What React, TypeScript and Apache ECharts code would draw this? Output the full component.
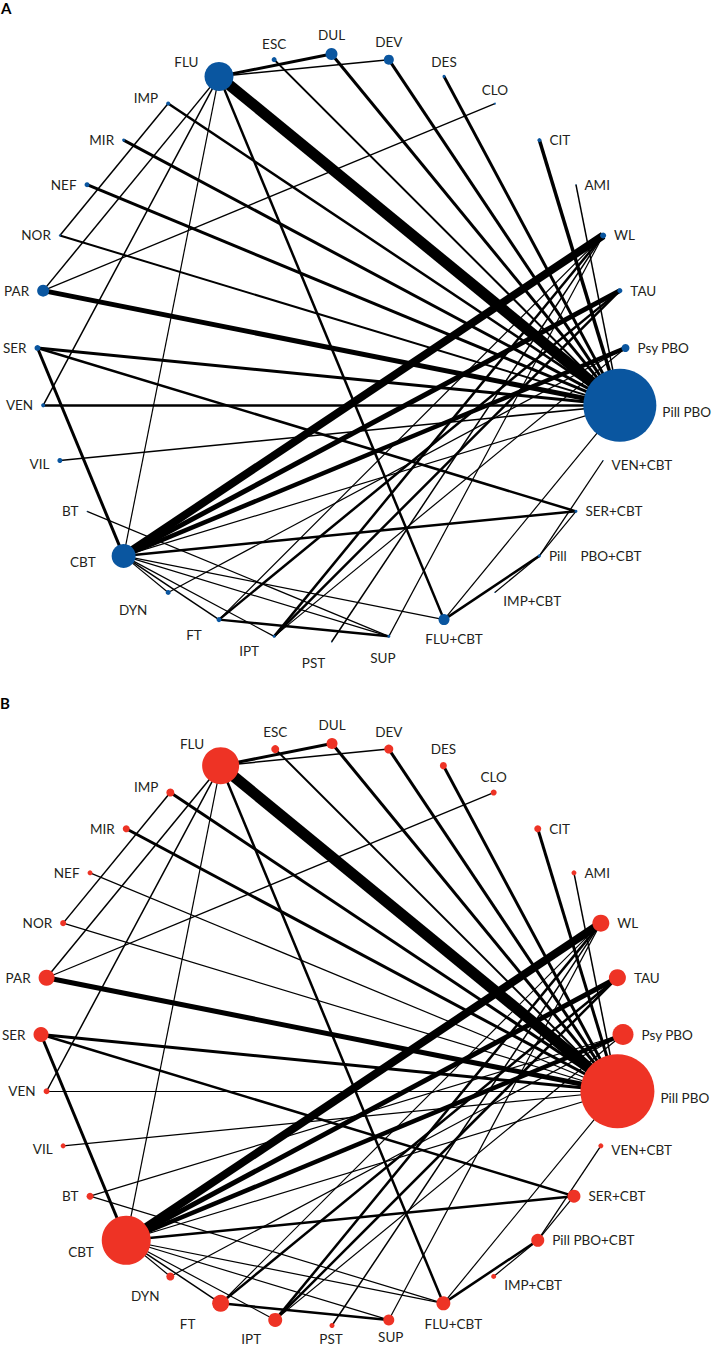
import React, { useEffect, useRef } from 'react';
import * as echarts from 'echarts';

// nodes in clockwise order starting at the top of the circle
const nodeNames = ['DUL', 'DEV', 'DES', 'CLO', 'CIT', 'AMI', 'WL', 'TAU', 'Psy PBO', 'Pill PBO', 'VEN+CBT', 'SER+CBT', 'Pill PBO+CBT', 'IMP+CBT', 'FLU+CBT', 'SUP', 'PST', 'IPT', 'FT', 'DYN', 'CBT', 'BT', 'VIL', 'VEN', 'SER', 'PAR', 'NOR', 'NEF', 'MIR', 'IMP', 'FLU', 'ESC'];
const nodeLabelsA = ['DUL', 'DEV', 'DES', 'CLO', 'CIT', 'AMI', 'WL', 'TAU', 'Psy PBO', 'Pill PBO', 'VEN+CBT', 'SER+CBT', 'Pill    PBO+CBT', 'IMP+CBT', 'FLU+CBT', 'SUP', 'PST', 'IPT', 'FT', 'DYN', 'CBT', 'BT', 'VIL', 'VEN', 'SER', 'PAR', 'NOR', 'NEF', 'MIR', 'IMP', 'FLU', 'ESC'];
const nodeLabelsB = nodeNames;

const nodeSizesA = [12, 10, 3, 2, 4, 1, 6, 5, 8, 73, 1, 3, 3, 1, 11, 3, 1, 3, 5, 5, 24, 1, 5, 4, 6, 12, 2, 5, 3, 4, 29, 5];
const nodeSizesB = [11, 9, 7, 6, 7, 5, 17, 17, 21, 74, 5, 13, 13, 5, 14, 11, 5, 14, 17, 8, 49, 7, 5, 6, 15, 16, 6, 5, 7, 8, 37, 8];

const edgesA: [string, string, number][] = [
  ['FLU', 'Pill PBO', 11],
  ['FLU', 'DUL', 3],
  ['FLU', 'DEV', 1.5],
  ['FLU', 'PAR', 1.5],
  ['FLU', 'VEN', 1.5],
  ['FLU', 'CBT', 1.2],
  ['FLU', 'FLU+CBT', 2.5],
  ['ESC', 'Pill PBO', 2],
  ['DUL', 'Pill PBO', 3],
  ['DEV', 'Pill PBO', 3],
  ['DES', 'Pill PBO', 3],
  ['CLO', 'PAR', 1.3],
  ['CIT', 'Pill PBO', 3.5],
  ['AMI', 'Pill PBO', 1.5],
  ['IMP', 'Pill PBO', 2.5],
  ['IMP', 'NOR', 1.5],
  ['MIR', 'Pill PBO', 3],
  ['NEF', 'Pill PBO', 3],
  ['NOR', 'Pill PBO', 2],
  ['PAR', 'Pill PBO', 5],
  ['SER', 'Pill PBO', 3],
  ['SER', 'SER+CBT', 2.5],
  ['SER', 'CBT', 3],
  ['VEN', 'Pill PBO', 2.5],
  ['VIL', 'Pill PBO', 1.5],
  ['CBT', 'WL', 8],
  ['CBT', 'TAU', 5],
  ['CBT', 'Psy PBO', 4.5],
  ['CBT', 'Pill PBO', 1.2],
  ['CBT', 'SER+CBT', 2.5],
  ['CBT', 'FLU+CBT', 1.2],
  ['CBT', 'DYN', 1.2],
  ['CBT', 'FT', 1.5],
  ['CBT', 'IPT', 1.2],
  ['CBT', 'SUP', 1.2],
  ['BT', 'SUP', 1.2],
  ['FT', 'SUP', 2.5],
  ['FT', 'TAU', 2.5],
  ['FT', 'WL', 1.2],
  ['IPT', 'TAU', 2.5],
  ['IPT', 'WL', 2.5],
  ['IPT', 'Psy PBO', 1.2],
  ['PST', 'WL', 1.5],
  ['DYN', 'Psy PBO', 1.2],
  ['SUP', 'WL', 1.2],
  ['FLU+CBT', 'Pill PBO', 1.2],
  ['FLU+CBT', 'Pill PBO+CBT', 2.5],
  ['IMP+CBT', 'Pill PBO+CBT', 1.2],
  ['SER+CBT', 'Pill PBO+CBT', 1.2],
  ['VEN+CBT', 'Pill PBO+CBT', 1.3],
];

const edgesB: [string, string, number][] = [
  ['FLU', 'Pill PBO', 11],
  ['FLU', 'DUL', 3],
  ['FLU', 'DEV', 1.5],
  ['FLU', 'PAR', 1.5],
  ['FLU', 'VEN', 1.5],
  ['FLU', 'CBT', 1.2],
  ['FLU', 'FLU+CBT', 2.5],
  ['ESC', 'Pill PBO', 2],
  ['DUL', 'Pill PBO', 3],
  ['DEV', 'Pill PBO', 3],
  ['DES', 'Pill PBO', 3],
  ['CLO', 'PAR', 1.3],
  ['CIT', 'Pill PBO', 3],
  ['AMI', 'Pill PBO', 1.5],
  ['IMP', 'Pill PBO', 3],
  ['IMP', 'NOR', 1.5],
  ['MIR', 'Pill PBO', 3],
  ['NEF', 'Pill PBO', 1.2],
  ['NOR', 'Pill PBO', 1.2],
  ['PAR', 'Pill PBO', 5],
  ['SER', 'Pill PBO', 3],
  ['SER', 'SER+CBT', 2.5],
  ['SER', 'CBT', 3],
  ['VEN', 'Pill PBO', 1.2],
  ['VIL', 'Pill PBO', 1.2],
  ['BT', 'Psy PBO', 1.2],
  ['BT', 'FLU+CBT', 1.2],
  ['CBT', 'WL', 8],
  ['CBT', 'TAU', 5],
  ['CBT', 'Psy PBO', 4.5],
  ['CBT', 'Pill PBO', 1.2],
  ['CBT', 'SER+CBT', 2.5],
  ['CBT', 'FLU+CBT', 1.2],
  ['CBT', 'DYN', 1.2],
  ['CBT', 'FT', 1.5],
  ['CBT', 'IPT', 1.2],
  ['CBT', 'SUP', 1.2],
  ['FT', 'SUP', 2.5],
  ['FT', 'TAU', 2.5],
  ['FT', 'WL', 1.2],
  ['IPT', 'TAU', 2.5],
  ['IPT', 'WL', 2.5],
  ['IPT', 'Psy PBO', 1.2],
  ['PST', 'WL', 1.5],
  ['DYN', 'Psy PBO', 1.2],
  ['SUP', 'WL', 1.2],
  ['FLU+CBT', 'Pill PBO', 1.2],
  ['FLU+CBT', 'Pill PBO+CBT', 2.5],
  ['IMP+CBT', 'Pill PBO+CBT', 1.2],
  ['SER+CBT', 'Pill PBO+CBT', 1.2],
  ['VEN+CBT', 'Pill PBO+CBT', 1.3],
];

const FONT = 'Lato';
const TEXT_COLOR = '#231f20';

// label placement around the circle (style only)
function labelPlacement(i: number, panel: number): any {
  if (i === 30) return { position: 'left', distance: 4, offset: panel === 0 ? [-2, -14] : [6, -22] };
  if (i === 31 || i <= 3) return { position: 'top', distance: 6 };
  if (i <= 13) {
    const dy = i === 9 ? 7 : i === 13 ? 9 : i === 10 ? 4 : 0;
    return { position: 'right', distance: i === 9 ? 6 : 8, offset: [0, dy] };
  }
  if (i === 14) return { position: 'bottom', distance: 5, offset: [10, 2] };
  const bottomOffsets: Record<number, number[][]> = {
    15: [[-6, 8], [2, 0]],
    16: [[-18, 10], [-1, 1]],
    17: [[-25, 3], [-24, 2]],
    18: [[-25, 3], [-33, 2]],
    19: [[-35, 5], [-25, 6]],
  };
  if (i <= 19) return { position: 'bottom', distance: i === 15 ? 5 : 3, offset: bottomOffsets[i][panel] };
  let dy = 0;
  let dx = 0;
  if (i === 20) { dy = panel === 0 ? 6 : 12; dx = panel === 0 ? -8 : 0; }
  if (i === 29) dy = -6;
  if (i === 22) dy = 3;
  return { position: 'left', distance: 8, offset: [dx, dy] };
}

function buildSeries(polarIndex: number, sizes: number[], labels: string[], edges: [string, string, number][], color: string) {
  return {
    type: 'graph',
    coordinateSystem: 'polar',
    polarIndex,
    silent: true,
    symbol: 'circle',
    itemStyle: { color },
    lineStyle: { color: '#000', opacity: 1, curveness: 0 },
    emphasis: { disabled: true },
    label: { show: true, fontFamily: FONT, fontSize: 13.5, color: TEXT_COLOR },
    data: nodeNames.map((name, i) => ({
      name,
      value: [1, name],
      symbolSize: sizes[i],
      label: { ...labelPlacement(i, polarIndex), formatter: labels[i] },
    })),
    links: edges.map(([s, t, w]) => ({ source: s, target: t, lineStyle: { width: w } })),
  };
}

const hiddenAngle = (polarIndex: number) => ({
  polarIndex,
  type: 'category',
  data: nodeNames,
  startAngle: 90,
  clockwise: true,
  boundaryGap: false,
  axisLine: { show: false },
  axisTick: { show: false },
  axisLabel: { show: false },
  splitLine: { show: false },
});

const hiddenRadius = (polarIndex: number) => ({
  polarIndex,
  type: 'value',
  min: 0,
  max: 1,
  axisLine: { show: false },
  axisTick: { show: false },
  axisLabel: { show: false },
  splitLine: { show: false },
});

export default function App() {
  const ref = useRef<HTMLDivElement>(null);
  useEffect(() => {
    if (!ref.current) return;
    const chart = echarts.init(ref.current, null, { renderer: 'svg' });
    chart.setOption({
      animation: false,
      backgroundColor: '#ffffff',
      polar: [
        { center: [331.5, 348], radius: 294 },
        { center: [332, 1034.5], radius: 291 },
      ],
      angleAxis: [hiddenAngle(0), hiddenAngle(1)],
      radiusAxis: [hiddenRadius(0), hiddenRadius(1)],
      graphic: [
        { type: 'text', left: 1, top: 0, style: { text: 'A', font: `bold 15px ${FONT}`, fill: '#000' } },
        { type: 'text', left: 0, top: 695, style: { text: 'B', font: `bold 15px ${FONT}`, fill: '#000' } },
      ],
      series: [
        buildSeries(0, nodeSizesA, nodeLabelsA, edgesA, '#0a56a0'),
        buildSeries(1, nodeSizesB, nodeLabelsB, edgesB, '#ee3325'),
      ],
    });
    return () => chart.dispose();
  }, []);
  return <div ref={ref} style={{ position: 'absolute', left: 0, top: 0, width: 712, height: 1347 }} />;
}
